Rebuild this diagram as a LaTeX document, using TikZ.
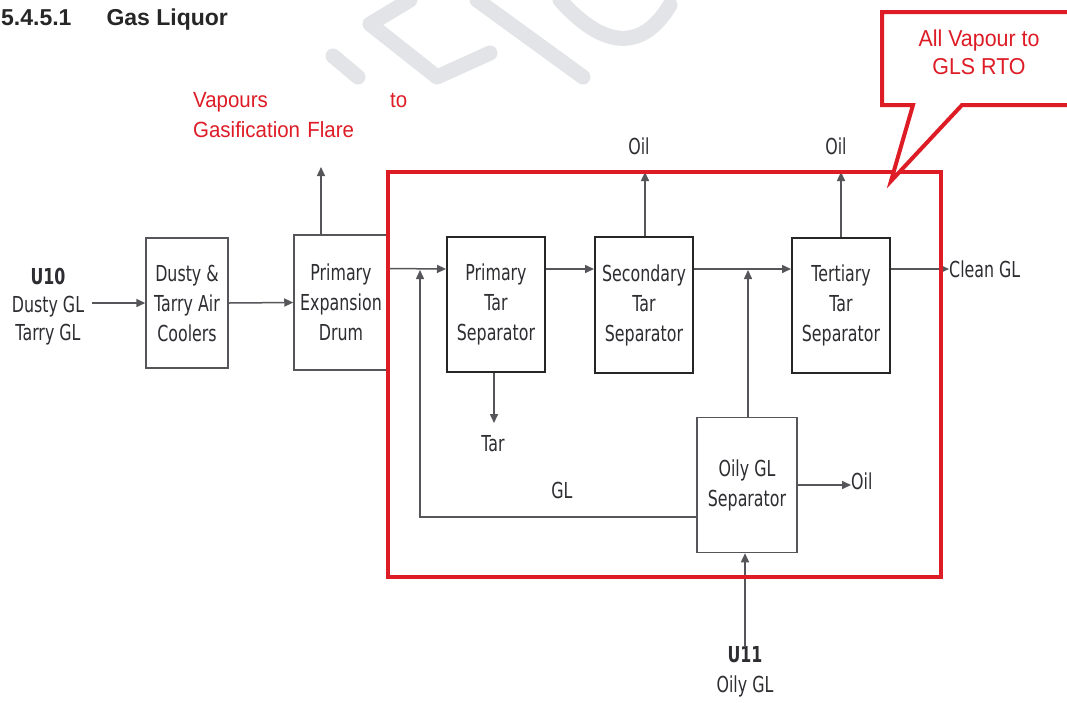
\documentclass[tikz,border=0pt]{standalone}
\usepackage{fontspec}
\setmainfont{DejaVu Sans}[FakeStretch=0.72]
\newfontfamily\arialf{Liberation Sans}[FakeStretch=0.93]
\newfontfamily\titlef{Liberation Sans}
\usetikzlibrary{arrows.meta}
\definecolor{rd}{RGB}{222,28,38}
\definecolor{ln}{RGB}{85,85,90}
\definecolor{tx}{RGB}{45,45,50}
\definecolor{wm}{RGB}{226,228,231}
\begin{document}
\begin{tikzpicture}[x=1pt,y=-1pt,
  box/.style={draw=ln, line width=1.5pt, inner sep=0pt, align=center, text=tx,
    font=\fontsize{22}{30}\selectfont},
  dbox/.style={box, draw=black!85, line width=2pt},
  flow/.style={draw=ln, line width=1.5pt, -{Triangle[length=9pt,width=8pt]}},
  lbl/.style={text=tx, inner sep=0pt, align=center, font=\fontsize{22}{30}\selectfont},
  rlbl/.style={text=rd, inner sep=0pt, font=\arialf\fontsize{22}{30}\selectfont},
  wmark/.style={draw=wm, line width=15pt, line cap=round, line join=round}]
\useasboundingbox (0,0) rectangle (1067,702);
\clip (0,0) rectangle (1067,702);
\fill[white] (0,0) rectangle (1067,702);

% watermark
\draw[wmark] (333,56) -- (358,77);
\draw[wmark] (410,0) -- (370,24) -- (437,77) -- (490,53);
\draw[wmark] (477,0) -- (583,77);
\draw[wmark] (560,0) .. controls (600,45) and (640,55) .. (670,5);

% title
\node[anchor=west, inner sep=0pt, text=black!85, font=\titlef\bfseries\fontsize{23}{27}\selectfont] (title) at (1,20) {5.4.5.1\hspace{35pt}Gas Liquor};

% red labels
\node[rlbl, anchor=north west, text width=214pt, align=left] (vap) at (193,92) {Vapours\hfill to\\Gasification Flare\hfill\null};

% boxes
\node[box, minimum width=82pt, minimum height=130pt] (dusty) at (187,303) {Dusty \&\\Tarry Air\\Coolers};
\node[box, minimum width=94pt, minimum height=135pt] (drum) at (341,302.5) {Primary\\Expansion\\Drum};
\node[dbox, minimum width=98pt, minimum height=135pt] (pts) at (496,304) {Primary\\Tar\\Separator};
\node[dbox, minimum width=98pt, minimum height=136pt] (sts) at (644,305) {Secondary\\Tar\\Separator};
\node[dbox, minimum width=98pt, minimum height=135pt] (tts) at (841,305.5) {Tertiary\\Tar\\Separator};
\node[box, minimum width=100pt, minimum height=135pt] (oily) at (747,485) {Oily GL\\Separator};

% text labels
\node[lbl, font=\fontsize{22}{28}\selectfont] (u10) at (48,307) {\textbf{U10}\\Dusty GL\\Tarry GL};
\node[lbl] (u11) at (745,672) {\textbf{U11}\\Oily GL};
\node[lbl] (oil1) at (639,146) {Oil};
\node[lbl] (oil2) at (836,146) {Oil};
\node[lbl, anchor=west] (oil3) at (851,481) {Oil};
\node[lbl] (tar) at (493,444) {Tar};
\node[lbl] (gl) at (562,490) {GL};
\node[lbl, anchor=west] (cgl) at (949,269) {Clean GL};

% free-end coordinates
\coordinate (vtip) at (321,167);
\coordinate (o1) at (645,172);
\coordinate (o2) at (841,172);
\coordinate (ttip) at (494,423);
\coordinate (j1) at (420,270);
\coordinate (j2) at (748,270);

% connectors
\draw[flow] ([xshift=44pt]u10.center |- dusty.west) -- (dusty.west);
\draw[flow] (dusty.east) -- (drum.west);
\draw[flow] (drum.north -| vtip) -- (vtip);
\draw[flow] ([yshift=34pt]drum.east) -- ([yshift=35pt]pts.west);
\draw[flow] ([yshift=35pt]pts.east) -- ([yshift=36pt]sts.west);
\draw[flow] ([yshift=36pt]sts.east) -- ([yshift=36.5pt]tts.west);
\draw[flow] ([yshift=36.5pt]tts.east) -- (cgl.west);
\draw[flow] (sts.north -| o1) -- (o1);
\draw[flow] (tts.north) -- (o2);
\draw[flow] (pts.south -| ttip) -- (ttip);
\draw[flow] ([yshift=-32pt]oily.west) -| (j1);
\draw[flow] (oily.north -| j2) -- (j2);
\draw[flow] (oily.east) -- (oily.east -| oil3.west);
\draw[flow] (u11.north) -- (u11.north |- oily.south);

% red group box
\draw[rd, line width=4pt] (388,172) rectangle (941,577);

% callout
\draw[rd, line width=4pt, fill=white, line join=miter]
  (1085,105) -- (962,105) -- (891,181) -- (913,105) -- (882,105) -- (882,12) -- (1085,12);
\node[rlbl, align=center, font=\arialf\fontsize{23}{28}\selectfont] (callout) at (979,52) {All Vapour to\\GLS RTO};
\end{tikzpicture}
\end{document}
